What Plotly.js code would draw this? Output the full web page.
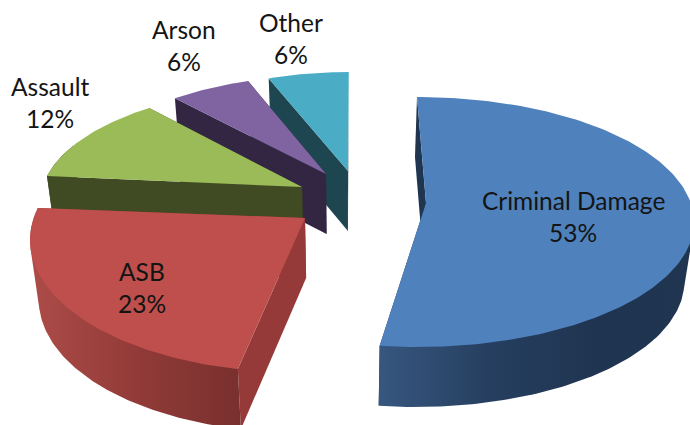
<!DOCTYPE html>
<html><head><meta charset="utf-8">
<script src="https://cdn.plot.ly/plotly-3.0.1.min.js"></script>
<style>html,body{margin:0;padding:0;background:#fff}#c{width:690px;height:425px}</style>
</head><body><div id="c"></div>
<script>
const categories = ["Criminal Damage","ASB","Assault","Arson","Other"];
const values = [53,23,12,6,6];
const topColors = ["#4F81BD","#BE4F4C","#9BBB59","#8064A2","#4BACC6"];
const faceColors = ["#1F3550","#953A38","#414B23","#332642","#1E4650"];
const rimScales = [
  [[0,"#37577F"],[0.35,"#263F60"],[0.7,"#1F3450"],[1,"#1F3550"]],
  [[0,"#AD4C48"],[0.5,"#923B38"],[1,"#78302E"]],
  [[0,"#414B23"],[1,"#414B23"]],
  [[0,"#332642"],[1,"#332642"]],
  [[0,"#1E4650"],[1,"#1E4650"]]
];
// per-slice projection: apex, ellipse of the rim, and how data angle maps on to it
const apexX = [426,305,302,326,348];
const apexY = [203,218,187,174,171];
const ellX  = [417,293,290,321,350];
const ellY  = [222,240,203,184,180];
const radX  = [277,263,250,240,240];
const radY  = [125,132,115,108,108];
const thetaStart = [0,192.1,283.6,322.5,340.2];
const thetaWarp  = [0.984,1.11,0.975,0.917,0.903];
const depth = 60, vanishX = 345, lowerScale = 0.972;
const labelX = [573,142,50,184,291];
const labelY1 = [200,271,86,29,22];
const labelY2 = [232,303,118,61,54];

const total = values.reduce((a,b)=>a+b,0);
let acc = 0;
const spans = values.map(v=>{acc+=v; return v/total*360;});
function rim(i,deg){const t=deg*Math.PI/180;
  return [ellX[i]+radX[i]*Math.sin(t), ellY[i]-radY[i]*Math.cos(t)];}
function low(p){return [vanishX+(p[0]-vanishX)*lowerScale,p[1]+depth];}
function arc(i,a,b){const n=Math.max(4,Math.ceil(b-a)),o=[];
  for(let j=0;j<=n;j++)o.push(rim(i,a+(b-a)*j/n));return o;}
function hull(pts){const s=pts.slice().sort((p,q)=>p[0]-q[0]||p[1]-q[1]);
  const cr=(o,a,b)=>(a[0]-o[0])*(b[1]-o[1])-(a[1]-o[1])*(b[0]-o[0]);
  const h=[];for(const p of s){while(h.length>1&&cr(h[h.length-2],h[h.length-1],p)<=0)h.pop();h.push(p);}
  const l=h.length+1;for(let k=s.length-2;k>=0;k--){const p=s[k];while(h.length>=l&&cr(h[h.length-2],h[h.length-1],p)<=0)h.pop();h.push(p);}
  h.pop();h.push(h[0]);return h;}
function poly(pts,extra){return Object.assign({type:"scatter",mode:"lines",x:pts.map(p=>p[0]),y:pts.map(p=>p[1]),
  fill:"toself",line:{width:0},hoverinfo:"skip",showlegend:false},extra);}
const traces=[];
for(const i of [4,3,2,1,0]){
  const a=thetaStart[i], b=a+spans[i]*thetaWarp[i], ap=[apexX[i],apexY[i]], edge=arc(i,a,b);
  const e0=edge[0], e1=edge[edge.length-1];
  const c={fillcolor:faceColors[i]};
  traces.push(poly([ap,e0,low(e0),low(ap)],c));
  traces.push(poly([ap,e1,low(e1),low(ap)],c));
  const fa=Math.max(a,80), fb=Math.min(b,300);
  if(fb>fa){const r=arc(i,fa,fb);
    traces.push(poly(hull(r.concat(r.map(low))),{fillcolor:"rgba(0,0,0,0)",fillgradient:{type:"horizontal",colorscale:rimScales[i]}}));}
  traces.push(poly([ap].concat(edge),{fillcolor:topColors[i]}));
}
const anns=[];
categories.forEach((c,i)=>{
  const base={xref:"x",yref:"y",showarrow:false,xanchor:"center",yanchor:"middle",x:labelX[i],
    font:{family:"Lato, 'Open Sans', sans-serif",size:24.5,color:"#141414"}};
  anns.push(Object.assign({},base,{y:labelY1[i],text:c}));
  anns.push(Object.assign({},base,{y:labelY2[i],text:values[i]+"%"}));
});
Plotly.newPlot("c",traces,{width:690,height:425,margin:{l:0,r:0,t:0,b:0},showlegend:false,
  paper_bgcolor:"#fff",plot_bgcolor:"#fff",
  xaxis:{range:[0,690],visible:false,fixedrange:true},yaxis:{range:[425,0],visible:false,fixedrange:true},
  annotations:anns},{displayModeBar:false,staticPlot:true});
</script></body></html>
